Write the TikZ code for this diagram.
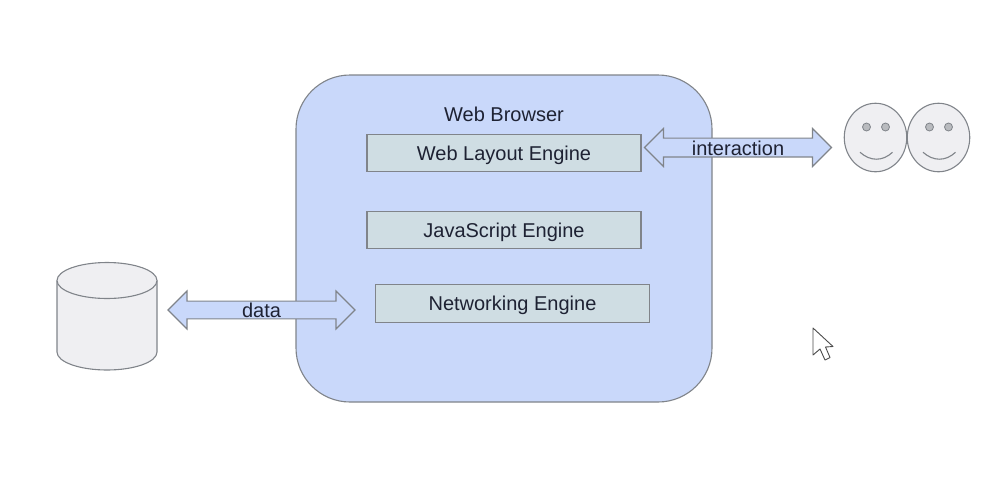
\documentclass[tikz,border=0pt]{standalone}
\usepackage{fontspec}
\setmainfont{Liberation Sans}
\usetikzlibrary{shapes.geometric,shapes.arrows}
\definecolor{browserblue}{HTML}{C9D8FA}
\definecolor{enginegray}{HTML}{CFDDE3}
\definecolor{linegray}{HTML}{80848A}
\definecolor{shapegray}{HTML}{EFEFF2}
\definecolor{textdark}{HTML}{1E2233}
\begin{document}
\begin{tikzpicture}[
  x=1pt, y=-1pt,
  font=\fontsize{20pt}{24pt}\selectfont,
  text=textdark,
  browser/.style={rectangle, draw=linegray, fill=browserblue, rounded corners=54pt, minimum width=416pt, minimum height=327pt, line width=1.1pt},
  engine/.style={rectangle, draw=linegray, fill=enginegray, minimum width=274pt, minimum height=37.5pt, text height=14.2pt, text depth=0pt, line width=1.1pt},
  link/.style={double arrow, draw=linegray, fill=browserblue, double arrow head extend=9pt, double arrow tip angle=90, minimum width=38pt, inner sep=0pt, line width=1.1pt},
  face/.style={ellipse, draw=linegray, fill=shapegray, minimum width=62.5pt, minimum height=68.5pt, inner sep=0pt, line width=1.1pt},
  eye/.style={ellipse, draw=linegray, fill=linegray!55, minimum size=8pt, inner sep=0pt, line width=0.8pt},
  store/.style={draw=linegray, fill=shapegray, line width=1.1pt}
]
\useasboundingbox (0,0) rectangle (996,499);

\node[browser] (browser) at (504,238.5) {};
\node[engine] (layout) at (504,153) {Web Layout Engine};
\node[above of=layout, node distance=39pt] (title) {Web Browser};
\node[engine, below of=layout, node distance=77pt] (script) {JavaScript Engine};
\node[engine, below of=script, node distance=73.5pt, xshift=8.5pt] (network) {Networking Engine};

\node[link, right of=layout, node distance=234pt, yshift=5.5pt, minimum height=187pt, text height=16.5pt] (interaction) {interaction};
\node[link, left of=network, node distance=251pt, yshift=-6.5pt, minimum height=187pt] (data) {data};

% database
\draw[store] (57,280.5) -- (57,352) arc[start angle=180, end angle=0, x radius=50, y radius=18] -- (157,280.5);
\draw[store] (107,280.5) ellipse (50 and 18);

\foreach \name/\xpos in {faceA/875.5, faceB/938.5} {
  \node[face] (\name) at (\xpos,137.5) {};
  \node[eye] (\name eyeL) at ([xshift=-9pt,yshift=10.5pt]\name.center) {};
  \node[eye] (\name eyeR) at ([xshift=10pt,yshift=10.5pt]\name.center) {};
  \draw[linegray, line width=1.1pt] ([xshift=-15.5pt,yshift=-14.8pt]\name.center) .. controls ([xshift=-5pt,yshift=-24pt]\name.center) and ([xshift=7pt,yshift=-24pt]\name.center) .. ([xshift=17pt,yshift=-14.8pt]\name.center);
}

% mouse pointer
\draw[black!70, fill=white, line width=0.9pt, line join=round] (813,328) -- (813,355) -- (820,349) -- (825,360) -- (830,357.5) -- (825.5,347) -- (833,346.5) -- cycle;
\end{tikzpicture}
\end{document}
